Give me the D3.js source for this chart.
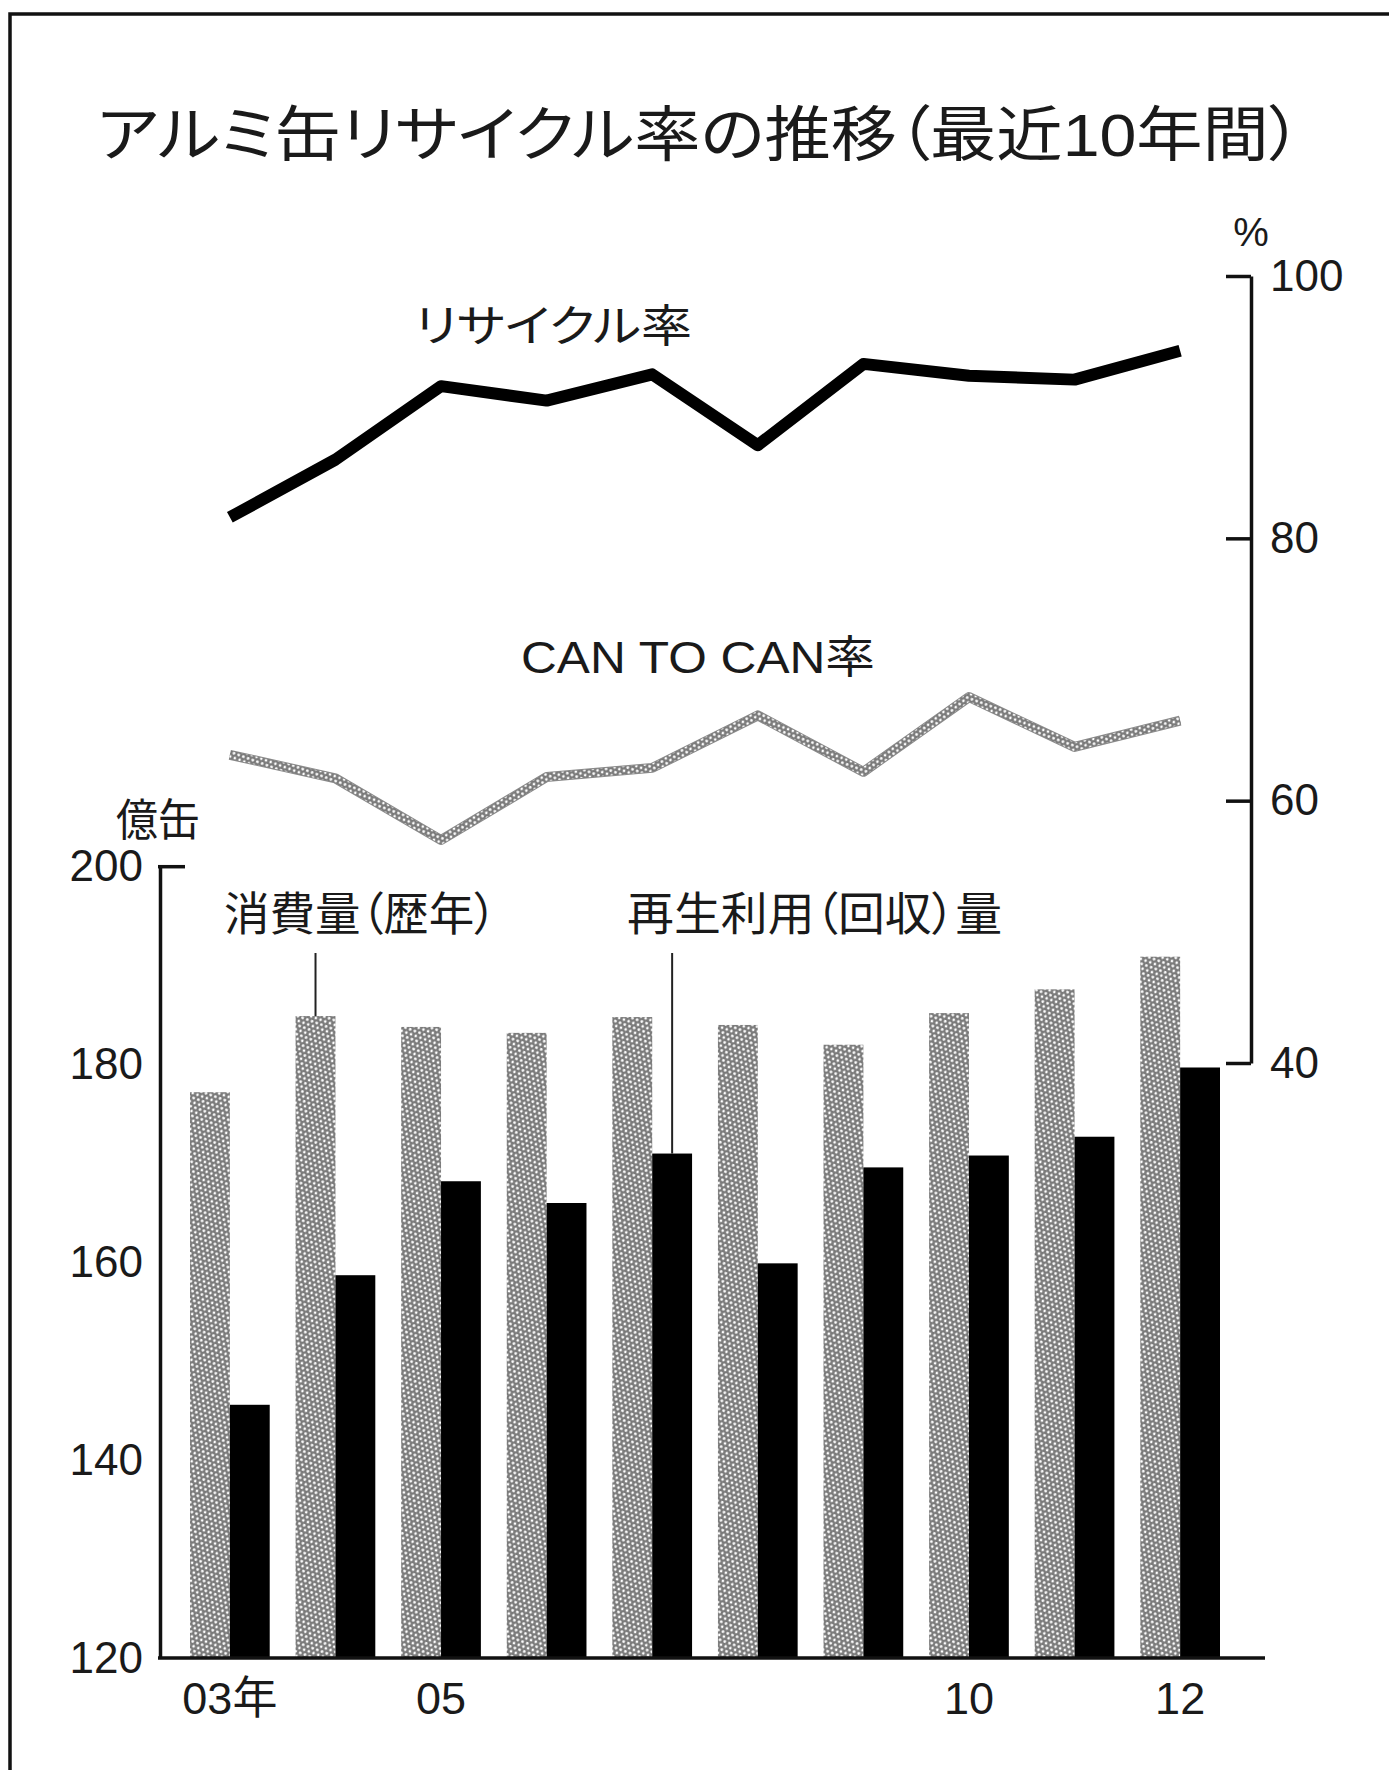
<!DOCTYPE html>
<html>
<head>
<meta charset="utf-8">
<script src="https://cdn.jsdelivr.net/npm/d3@7"></script>
<style>
  html, body { margin: 0; padding: 0; background: #fff; }
  svg { display: block; }
  text { font-family: "Liberation Sans", "Noto Sans CJK JP", sans-serif; fill: #1a1a1a; font-feature-settings: "palt"; }
</style>
</head>
<body>
<svg id="chart" width="1389" height="1770"></svg>
<script>
// Aluminium can consumption / recycling volumes (億缶) and rates (%), 2003–2012
const years = ["03", "04", "05", "06", "07", "08", "09", "10", "11", "12"];
const consumption = [177.2, 184.9, 183.8, 183.2, 184.8, 184.0, 182.0, 185.2, 187.6, 190.9];
const recycled = [145.6, 158.7, 168.2, 166.0, 171.0, 159.9, 169.6, 170.8, 172.7, 179.7];
const recycleRate = [81.6, 86.0, 91.6, 90.5, 92.5, 87.1, 93.3, 92.4, 92.1, 94.3];
const canToCanRate = [63.5, 61.7, 57.0, 61.8, 62.5, 66.5, 62.2, 67.9, 64.1, 66.1];
const leftTicks = [120, 140, 160, 180, 200];
const rightTicks = [40, 60, 80, 100];
const xTickYears = ["03", "05", "10", "12"];

const svg = d3.select("#chart");
const defs = svg.append("defs");

// Halftone screen used for the consumption bars and the CAN TO CAN line
const pat = defs.append("pattern")
  .attr("id", "screen")
  .attr("patternUnits", "userSpaceOnUse")
  .attr("width", 5).attr("height", 8.66)
  .attr("patternTransform", "rotate(20)");
pat.append("rect").attr("width", 5).attr("height", 8.66).attr("fill", "#7a7a7a");
[[0, 0], [5, 0], [0, 8.66], [5, 8.66], [2.5, 4.33]].forEach(([cx, cy]) => {
  pat.append("circle").attr("cx", cx).attr("cy", cy).attr("r", 1.35).attr("fill", "#fff");
});

// Frame
svg.append("rect")
  .attr("x", 10).attr("y", 14)
  .attr("width", 1500).attr("height", 1900)
  .attr("fill", "none").attr("stroke", "#111").attr("stroke-width", 3.5);

// Scales
const x = d3.scaleBand().domain(years).range([190, 1220]).paddingInner(0.245).paddingOuter(0);
const bw = x.bandwidth();
const yL = d3.scaleLinear().domain([120, 200]).range([1658, 866.7]);
const yR = d3.scaleLinear().domain([40, 100]).range([1063, 276]);
const cx = d => x(d) + bw / 2;

// Title
svg.append("text")
  .attr("x", 97).attr("y", 156)
  .attr("font-size", 60)
  .attr("textLength", 1205).attr("lengthAdjust", "spacingAndGlyphs")
  .text("アルミ缶リサイクル率の推移（最近10年間）");

// Bars
const bars = svg.append("g");
bars.selectAll("rect.cons").data(years).join("rect")
  .attr("class", "cons")
  .attr("x", d => x(d))
  .attr("width", bw / 2)
  .attr("y", (d, i) => yL(consumption[i]))
  .attr("height", (d, i) => yL(120) - yL(consumption[i]))
  .attr("fill", "url(#screen)");
bars.selectAll("rect.rec").data(years).join("rect")
  .attr("class", "rec")
  .attr("x", d => x(d) + bw / 2)
  .attr("width", bw / 2)
  .attr("y", (d, i) => yL(recycled[i]))
  .attr("height", (d, i) => yL(120) - yL(recycled[i]))
  .attr("fill", "#000");

// Left axis (億缶)
const leftAxis = svg.append("g")
  .attr("transform", "translate(160,0)")
  .call(d3.axisLeft(yL).tickValues(leftTicks).tickSize(0).tickPadding(17));
leftAxis.select(".domain").attr("stroke", "#111").attr("stroke-width", 3.5);
leftAxis.selectAll("text").attr("font-size", 44).attr("fill", "#1a1a1a");
svg.append("line")
  .attr("x1", 158).attr("x2", 185)
  .attr("y1", yL(200)).attr("y2", yL(200))
  .attr("stroke", "#111").attr("stroke-width", 3.5);
svg.append("text")
  .attr("x", 116).attr("y", 836)
  .attr("font-size", 44)
  .attr("textLength", 84).attr("lengthAdjust", "spacingAndGlyphs")
  .text("億缶");

// Baseline
svg.append("line")
  .attr("x1", 158).attr("x2", 1265)
  .attr("y1", yL(120)).attr("y2", yL(120))
  .attr("stroke", "#111").attr("stroke-width", 3.5);

// Bottom axis labels
const bottomAxis = svg.append("g")
  .attr("transform", `translate(0,${yL(120)})`)
  .call(d3.axisBottom(x).tickValues(xTickYears).tickSize(0).tickPadding(24)
    .tickFormat(d => d === "03" ? "03年" : d));
bottomAxis.select(".domain").remove();
bottomAxis.selectAll("text").attr("font-size", 45).attr("fill", "#1a1a1a");

// Right axis (%)
const rightAxis = svg.append("g")
  .attr("transform", "translate(1251,0)")
  .call(d3.axisRight(yR).tickValues(rightTicks).tickSizeInner(-25).tickSizeOuter(0).tickPadding(19));
rightAxis.select(".domain").attr("stroke", "#111").attr("stroke-width", 3.5);
rightAxis.selectAll(".tick line").attr("stroke", "#111").attr("stroke-width", 3.5);
rightAxis.selectAll("text").attr("font-size", 44).attr("fill", "#1a1a1a");
svg.append("text")
  .attr("x", 1251).attr("y", 246)
  .attr("text-anchor", "middle")
  .attr("font-size", 40)
  .text("%");

// Rate lines
const line = vals => d3.line().x((d, i) => cx(years[i])).y(d => yR(d))(vals);

svg.append("path")
  .attr("d", line(canToCanRate))
  .attr("fill", "none").attr("stroke", "#8a8a8a")
  .attr("stroke-width", 10).attr("stroke-linejoin", "round");
svg.append("path")
  .attr("d", line(canToCanRate))
  .attr("fill", "none").attr("stroke", "url(#screen)")
  .attr("stroke-width", 8).attr("stroke-linejoin", "round");

svg.append("path")
  .attr("d", line(recycleRate))
  .attr("fill", "none").attr("stroke", "#000")
  .attr("stroke-width", 12).attr("stroke-linejoin", "round");

// Series labels
svg.append("text")
  .attr("x", 415).attr("y", 342)
  .attr("font-size", 44)
  .attr("textLength", 277).attr("lengthAdjust", "spacingAndGlyphs")
  .text("リサイクル率");
svg.append("text")
  .attr("x", 521).attr("y", 673)
  .attr("font-size", 44)
  .attr("textLength", 354).attr("lengthAdjust", "spacingAndGlyphs")
  .text("CAN TO CAN率");
svg.append("text")
  .attr("x", 224).attr("y", 930)
  .attr("font-size", 46)
  .attr("textLength", 273).attr("lengthAdjust", "spacingAndGlyphs")
  .text("消費量（歴年）");
svg.append("text")
  .attr("x", 627).attr("y", 930)
  .attr("font-size", 46)
  .attr("textLength", 375).attr("lengthAdjust", "spacingAndGlyphs")
  .text("再生利用（回収）量");

// Leader lines from the labels to their bars
svg.append("line")
  .attr("x1", x("04") + bw / 4).attr("x2", x("04") + bw / 4)
  .attr("y1", 953).attr("y2", yL(consumption[1]))
  .attr("stroke", "#222").attr("stroke-width", 2);
svg.append("line")
  .attr("x1", x("07") + 3 * bw / 4).attr("x2", x("07") + 3 * bw / 4)
  .attr("y1", 953).attr("y2", yL(recycled[4]))
  .attr("stroke", "#222").attr("stroke-width", 2);
</script>
</body>
</html>
